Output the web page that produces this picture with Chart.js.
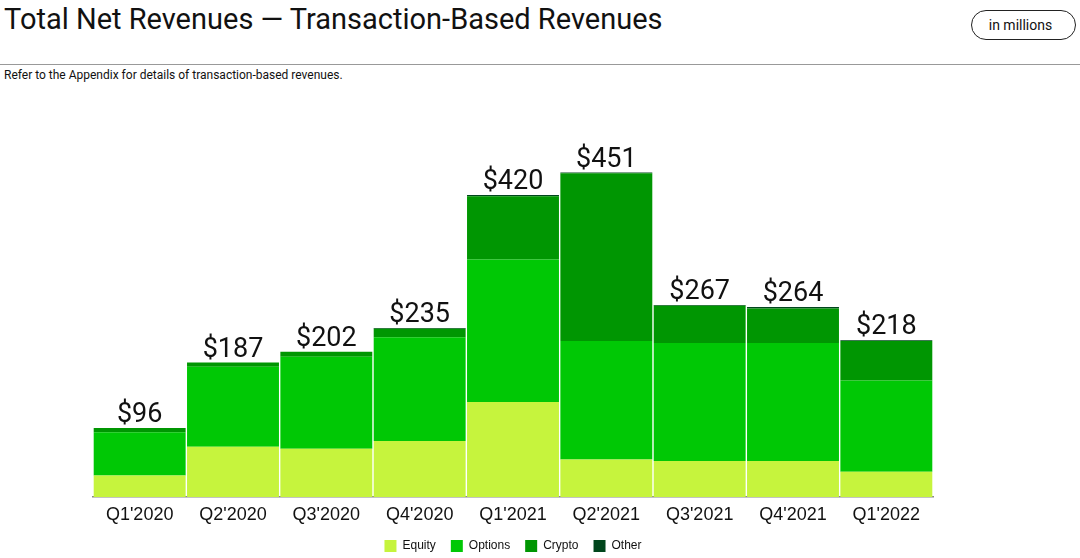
<!DOCTYPE html>
<html>
<head>
<meta charset="utf-8">
<script src="https://cdn.jsdelivr.net/npm/chart.js@4/dist/chart.umd.min.js"></script>
<style>
  html, body { margin: 0; padding: 0; background: #fff; }
  body { width: 1080px; height: 558px; position: relative; overflow: hidden; font-family: Roboto, "Liberation Sans", sans-serif; }
  .title { position: absolute; left: 4px; top: 2px; font-size: 29px; color: #111; white-space: nowrap; }
  .pill { position: absolute; left: 971px; top: 10px; height: 28px; border: 1.3px solid #222; border-radius: 15px; font-size: 14px; line-height: 28px; text-align: center; color: #111; padding-right: 6px; box-sizing: content-box; width: 97px; }
  .rule { position: absolute; left: 0; top: 64px; width: 1080px; height: 1px; background: #999; }
  .note { position: absolute; left: 4px; top: 68px; font-size: 12px; color: #111; }
  .wrap { position: absolute; left: 0; top: 90px; width: 1080px; height: 472px; }
</style>
</head>
<body>
<div class="title">Total Net Revenues — Transaction-Based Revenues</div>
<div class="pill">in millions</div>
<div class="rule"></div>
<div class="note">Refer to the Appendix for details of transaction-based revenues.</div>
<div class="wrap"><canvas id="revChart"></canvas></div>
<script>
const quarters = ["Q1'2020", "Q2'2020", "Q3'2020", "Q4'2020", "Q1'2021", "Q2'2021", "Q3'2021", "Q4'2021", "Q1'2022"];
const equity  = [30, 70, 67, 78, 132, 52, 50, 50, 35];
const options = [60, 111, 128, 144, 198, 165, 164, 164, 127];
const crypto  = [6, 6, 7, 12, 88, 233, 52, 48, 55];
const other   = [0, 0, 0, 1, 2, 1, 1, 2, 1];
const totals  = [96, 187, 202, 235, 420, 451, 267, 264, 218];

// totals drawn above each stack
const totalLabels = {
    id: 'totalLabels',
    afterDatasetsDraw(chart) {
        const ctx = chart.ctx;
        const meta = chart.getDatasetMeta(3);
        ctx.save();
        ctx.font = '27px Roboto, "Liberation Sans", sans-serif';
        ctx.fillStyle = '#111';
        ctx.textAlign = 'center';
        ctx.textBaseline = 'bottom';
        meta.data.forEach((bar, i) => {
            const y = chart.scales.y.getPixelForValue(totals[i]);
            ctx.fillText('$' + totals[i], bar.x, y + 1);
        });
        ctx.restore();
    }
};

const ctx = document.getElementById('revChart').getContext('2d');
new Chart(ctx, {
    type: 'bar',
    data: {
        labels: quarters,
        datasets: [
            { label: 'Equity', data: equity, backgroundColor: '#c6f43d' },
            { label: 'Options', data: options, backgroundColor: '#00c805' },
            { label: 'Crypto', data: crypto, backgroundColor: '#009602' },
            { label: 'Other', data: other, backgroundColor: '#00461c' },
        ],
    },
    options: {
        responsive: true,
        maintainAspectRatio: false,
        animation: false,
        layout: { padding: { left: 93, right: 147, top: 20, bottom: 0 } },
        datasets: { bar: { categoryPercentage: 0.985, barPercentage: 1 } },
        plugins: {
            legend: {
                position: 'bottom',
                labels: { boxWidth: 12, boxHeight: 12, padding: 15, color: '#111', font: { size: 12 } },
            },
            tooltip: { enabled: false },
        },
        scales: {
            x: {
                stacked: true,
                grid: { display: false, drawTicks: false },
                border: { display: true, color: '#888', width: 1.5 },
                ticks: { color: '#111', font: { size: 18 }, padding: 7 },
                afterFit(scale) { scale.height = 28; },
            },
            y: {
                stacked: true,
                display: false,
                min: 0,
                max: 538,
            },
        },
    },
    plugins: [totalLabels],
});
</script>
</body>
</html>
